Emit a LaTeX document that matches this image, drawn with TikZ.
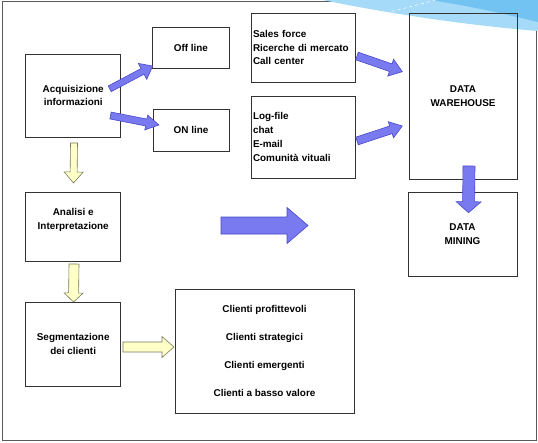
\documentclass[tikz,border=0pt]{standalone}
\usepackage{fontspec}
\setmainfont{Liberation Sans}
\usetikzlibrary{calc}
\definecolor{arrblue}{RGB}{122,122,240}
\definecolor{arrbluedraw}{RGB}{72,72,200}
\definecolor{arryel}{RGB}{255,255,200}
\definecolor{arryeldraw}{RGB}{120,120,90}
\definecolor{boxline}{RGB}{50,50,50}
\definecolor{frameline}{RGB}{90,90,90}
\definecolor{swlight}{RGB}{165,218,248}
\definecolor{swdark}{RGB}{115,195,242}
\newcommand\blockarrow[6]{%
  \coordinate (bah) at ($(#3)!#6!(#2)$);
  \draw[#1] ($(#2)!#4!90:(#3)$) -- ($(bah)!#4!90:(#3)$) -- ($(bah)!#5!90:(#3)$) -- (#3)
    -- ($(bah)!#5!-90:(#3)$) -- ($(bah)!#4!-90:(#3)$) -- ($(#2)!#4!-90:(#3)$) -- cycle;}
\begin{document}
\begin{tikzpicture}[x=1pt,y=-1pt,
  txt/.style={inner sep=0pt,font=\fontsize{9.9pt}{13.8pt}\selectfont\bfseries,align=center},
  box/.style={txt,draw=boxline,line width=0.9pt},
  bluearr/.style={fill=arrblue,draw=arrbluedraw,line width=0.6pt},
  yelarr/.style={fill=arryel,draw=arryeldraw,line width=0.6pt}]
\useasboundingbox (0,0) rectangle (538,442);
\fill[white] (0,0) rectangle (538,442);
\draw[frameline,line width=0.8pt] (2,1) rectangle (536,440);
% swoosh
\fill[swlight] (323,0) .. controls (360,8) and (450,24) .. (538,31) -- (538,0) -- cycle;
\fill[swdark] (430,0) .. controls (470,6) and (505,14) .. (538,22) -- (538,0) -- cycle;
\draw[white,line width=0.5pt,dashed] (386,13) -- (436,0);
% boxes
\node[box,minimum width=95pt,minimum height=83pt] (acq) at (73.2,95.5) {Acquisizione\\informazioni};
\node[box,minimum width=76.3pt,minimum height=41pt] (off) at (190.85,47.5) {Off line};
\node[box,minimum width=76pt,minimum height=42pt] (on) at (191,130) {ON line};
\node[box,minimum height=69pt,text width=100pt,inner xsep=2pt,align=left] (sales) at (303,47.5) {Sales force\\Ricerche di mercato\\Call center};
\node[box,minimum height=82pt,text width=100pt,inner xsep=2pt,align=left] (log) at (303,137) {Log-file\\chat\\E-mail\\Comunità vituali};
\node[box,minimum width=108pt,minimum height=166pt] (wh) at (463,96) {DATA\\WAREHOUSE};
\node[box,minimum width=95pt,minimum height=69pt] (ana) at (73.2,226.5) {};
\node[txt] (anat) at (73.2,220) {Analisi e\\Interpretazione};
\node[box,minimum width=95pt,minimum height=84pt] (seg) at (73.2,344) {Segmentazione\\dei clienti};
\node[box,minimum width=179pt,minimum height=124pt,font=\fontsize{9.9pt}{27.7pt}\selectfont\bfseries] (cli) at (264.5,351) {Clienti profittevoli\\Clienti strategici\\Clienti emergenti\\Clienti a basso valore};
\node[box,minimum width=109pt,minimum height=84pt] (dm) at (462.5,234) {DATA\\MINING};
% arrow ends
\coordinate (a1s) at (109.7,88.8);  \coordinate (a1e) at (152.7,66);
\coordinate (a2s) at (110.5,115.5); \coordinate (a2e) at (159,125);
\coordinate (a3s) at (357,56);      \coordinate (a3e) at (402.3,71.7);
\coordinate (a4s) at (357,141);     \coordinate (a4e) at (402.3,126);
\coordinate (a5s) at (469,166);     \coordinate (a5e) at (468.5,212.7);
\coordinate (a6s) at (221,225.5);   \coordinate (a6e) at (308,225.5);
\coordinate (y1s) at (74,143);      \coordinate (y1e) at (73.5,183);
\coordinate (y2s) at (74,264);      \coordinate (y2e) at (73.5,302);
\coordinate (y3s) at (123,347);     \coordinate (y3e) at (174,347);
\blockarrow{bluearr}{a1s}{a1e}{3.2pt}{9pt}{11.5pt}
\blockarrow{bluearr}{a2s}{a2e}{3.5pt}{7.5pt}{13pt}
\blockarrow{bluearr}{a3s}{a3e}{4pt}{8.9pt}{12.3pt}
\blockarrow{bluearr}{a4s}{a4e}{4pt}{8.5pt}{12pt}
\blockarrow{bluearr}{a5s}{a5e}{6pt}{12.5pt}{11pt}
\blockarrow{bluearr}{a6s}{a6e}{8.5pt}{18pt}{21pt}
\blockarrow{yelarr}{y1s}{y1e}{3.5pt}{9.5pt}{11pt}
\blockarrow{yelarr}{y2s}{y2e}{5pt}{9.5pt}{9pt}
\blockarrow{yelarr}{y3s}{y3e}{5pt}{10.5pt}{12pt}
\end{tikzpicture}
\end{document}
